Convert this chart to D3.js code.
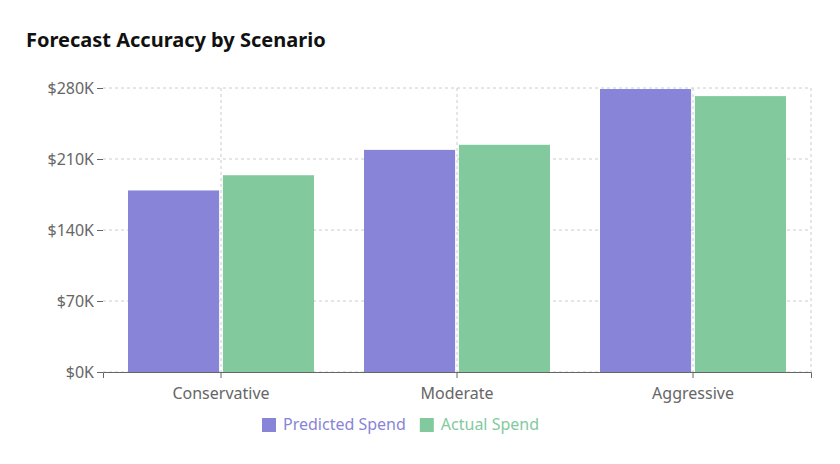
<!DOCTYPE html>
<html><head><meta charset="utf-8">
<script src="https://cdn.jsdelivr.net/npm/d3@7"></script>
<style>body{margin:0;background:#fff;font-family:"Segoe UI","Noto Sans",sans-serif;}</style>
</head><body>
<svg id="chart" width="840" height="464"></svg>
<script>
var categories = ["Conservative", "Moderate", "Aggressive"];
var seriesNames = ["Predicted Spend", "Actual Spend"];
var predicted = [179, 219, 279];
var actual = [194, 224, 272];
var yTicks = [0, 70, 140, 210, 280];
var colors = ["#8884d8", "#82ca9d"];

var margin = {top: 88, right: 29, bottom: 92, left: 103},
    width = 840 - margin.left - margin.right,
    height = 464 - margin.top - margin.bottom;

var svg = d3.select("#chart");
svg.append("text").attr("x", 26).attr("y", 47)
  .attr("font-size", "20px").attr("font-weight", "bold").attr("fill", "#111")
  .text("Forecast Accuracy by Scenario");

var g = svg.append("g").attr("transform", "translate(" + margin.left + "," + margin.top + ")");

var x0 = d3.scaleBand().domain(categories).range([0, width]);
var x1 = d3.scaleBand().domain(seriesNames).range([25, x0.bandwidth() - 25]).paddingInner(0.04);
var y = d3.scaleLinear().domain([0, 280]).range([height, 0]);

// grid
g.selectAll(".hg").data(yTicks).enter().append("line")
  .attr("x1", 0).attr("x2", width).attr("y1", d => y(d)).attr("y2", d => y(d))
  .attr("stroke", "#ccc").attr("stroke-dasharray", "3,3");
g.selectAll(".vg").data(categories).enter().append("line")
  .attr("x1", d => x0(d) + x0.bandwidth() / 2).attr("x2", d => x0(d) + x0.bandwidth() / 2)
  .attr("y1", 0).attr("y2", height)
  .attr("stroke", "#ccc").attr("stroke-dasharray", "3,3");
g.append("line").attr("x1", width).attr("x2", width).attr("y1", 0).attr("y2", height)
  .attr("stroke", "#ccc").attr("stroke-dasharray", "3,3");

var rows = categories.map((c, i) => ({cat: c, vals: [predicted[i], actual[i]]}));
var grp = g.selectAll(".grp").data(rows).enter().append("g")
  .attr("transform", d => "translate(" + x0(d.cat) + ",0)");
grp.selectAll("rect").data(d => d.vals.map((v, j) => ({s: seriesNames[j], v: v, j: j})))
  .enter().append("rect")
  .attr("x", d => x1(d.s)).attr("width", x1.bandwidth())
  .attr("y", d => y(d.v)).attr("height", d => height - y(d.v))
  .attr("fill", d => colors[d.j]);

var xAxis = g.append("g").attr("transform", "translate(0," + height + ")")
  .call(d3.axisBottom(x0).tickSize(6));
var yAxis = g.append("g").call(d3.axisLeft(y).tickValues(yTicks).tickFormat(d => "$" + d + "K").tickSize(6));
[xAxis, yAxis].forEach(a => {
  a.selectAll("path,line").attr("stroke", "#666");
  a.selectAll("text").attr("fill", "#666").attr("font-size", "16px")
    .attr("font-family", "'Segoe UI','Noto Sans',sans-serif");
});
yAxis.select(".domain").remove();
xAxis.selectAll("text").attr("dy", "1.1em");

// legend
var legend = svg.append("g").attr("transform", "translate(262,415)");
var lx = 0;
seriesNames.forEach((s, i) => {
  legend.append("rect").attr("x", lx).attr("y", 3).attr("width", 14).attr("height", 14).attr("fill", colors[i]);
  var t = legend.append("text").attr("x", lx + 21).attr("y", 15).attr("font-size", "16px")
    .attr("fill", colors[i]).text(s);
  lx += 21 + t.node().getComputedTextLength() + 14;
});
</script>
</body></html>
